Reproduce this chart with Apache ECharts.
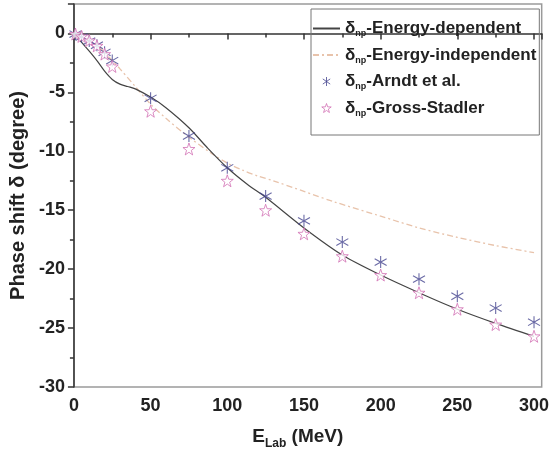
<!DOCTYPE html>
<html>
<head>
<meta charset="utf-8">
<script src="https://cdn.jsdelivr.net/npm/echarts@6/dist/echarts.min.js"></script>
<style>
  html, body { margin: 0; padding: 0; background: #fff; }
  #chart { width: 552px; height: 455px; }
</style>
</head>
<body>
<div id="chart"></div>
<script>
// curves
const curveEnergyDep = [0, 5, 10, 15, 20, 25, 30, 35, 40, 50, 60, 75, 87, 100, 113, 125, 150, 175, 200, 225, 250, 275, 300];
const phaseEnergyDep = [0, -0.75, -1.5, -2.3, -3.2, -3.9, -4.3, -4.5, -4.7, -5.4, -6.3, -8.0, -9.7, -11.4, -12.8, -13.9, -16.5, -18.8, -20.5, -22.0, -23.4, -24.6, -25.7];

const curveEnergyIndep = [0, 5, 10, 15, 20, 25, 30, 40, 50, 60, 75, 90, 100, 110, 120, 130, 150, 170, 200, 225, 250, 275, 300];
const phaseEnergyIndep = [0, -0.3, -0.6, -1.0, -1.6, -2.3, -3.0, -4.5, -6.0, -7.2, -8.8, -10.2, -11.0, -11.6, -12.1, -12.5, -13.4, -14.3, -15.5, -16.5, -17.3, -18.0, -18.6];

// data points
const dataEnergy = [1, 5, 10, 15, 20, 25, 50, 75, 100, 125, 150, 175, 200, 225, 250, 275, 300];
const phaseArndt = [-0.05, -0.3, -0.65, -1.0, -1.6, -2.3, -5.5, -8.7, -11.4, -13.8, -15.9, -17.7, -19.4, -20.85, -22.3, -23.3, -24.5];
const phaseGross = [-0.05, -0.25, -0.6, -1.05, -1.75, -2.8, -6.6, -9.8, -12.5, -15.0, -17.0, -18.9, -20.5, -22.0, -23.4, -24.7, -25.7];

const seriesNames = ['Energy-dependent', 'Energy-independent', 'Arndt et al.', 'Gross-Stadler'];

const toPairs = (xs, ys) => xs.map((x, i) => [x, ys[i]]);

const asteriskPath = 'path://M0,-10L0,10M-8.2,-5.7L8.2,5.7M-8.2,5.7L8.2,-5.7';
const starPath = 'path://M0,-10L2.35,-3.24L9.51,-3.09L3.80,1.24L5.88,8.09L0,4L-5.88,8.09L-3.80,1.24L-9.51,-3.09L-2.35,-3.24Z';
const noMarker = 'path://M0,0L1,0L1,1L0,1Z';

const asteriskColor = '#464690';
const starColor = '#d271b4';

const font = 'Liberation Sans, Arial, sans-serif';

const chart = echarts.init(document.getElementById('chart'));

let option = {
  animation: false,
  textStyle: { fontFamily: font },
  grid: {
    left: 72, right: 8, top: 4, bottom: 67,
    show: true,
    borderColor: '#9a9a9a',
    borderWidth: 1.5,
    backgroundColor: 'transparent'
  },
  legend: {
    orient: 'vertical',
    left: 311,
    top: 9,
    padding: [11, 3, 17, 1],
    borderColor: '#777',
    borderWidth: 1,
    itemWidth: 27,
    itemHeight: 9,
    itemGap: 8,
    data: [
      { name: seriesNames[0] },
      { name: seriesNames[1] },
      { name: seriesNames[2], itemStyle: { color: 'none', borderColor: asteriskColor, borderWidth: 1 } },
      { name: seriesNames[3], itemStyle: { color: '#fff', borderColor: starColor, borderWidth: 1 } }
    ],
    formatter: (name) => `{a|δ}{s|np}{a|-${name}}`,
    textStyle: {
      color: '#222',
      rich: {
        a: { fontSize: 17, fontWeight: 'bold', fontFamily: font, color: '#222' },
        s: { fontSize: 9, fontWeight: 'bold', fontFamily: font, color: '#222', padding: [11, 0, 0, 0] }
      }
    }
  },
  xAxis: {
    type: 'value',
    min: 0,
    max: 305,
    interval: 50,
    name: '{a|E}{s|Lab}{a| (MeV)}',
    nameLocation: 'middle',
    nameGap: 37,
    nameTextStyle: {
      padding: [0, 20, 0, 0],
      rich: {
        a: { fontSize: 19, fontWeight: 'bold', fontFamily: font, color: '#222' },
        s: { fontSize: 12, fontWeight: 'bold', fontFamily: font, color: '#222', padding: [14, 0, 0, 0] }
      }
    },
    axisLine: { lineStyle: { color: '#333', width: 1.5 } },
    axisTick: { show: true, length: 6, lineStyle: { color: '#333', width: 1.5 } },
    minorTick: { show: true, splitNumber: 2, length: 4, lineStyle: { color: '#333', width: 1.5 } },
    splitLine: { show: false },
    axisLabel: {
      margin: 10,
      fontSize: 18,
      fontWeight: 'bold',
      color: '#222',
      formatter: (v) => (v % 50 === 0 ? String(v) : '')
    }
  },
  yAxis: {
    type: 'value',
    min: -30,
    max: 2.5,
    interval: 5,
    name: 'Phase shift δ (degree)',
    nameLocation: 'middle',
    nameGap: 40,
    nameTextStyle: { fontSize: 20, fontWeight: 'bold', color: '#222', fontFamily: font },
    axisLine: { lineStyle: { color: '#333', width: 1.5 } },
    axisTick: { show: true, length: 6, lineStyle: { color: '#333', width: 1.5 } },
    minorTick: { show: true, splitNumber: 2, length: 4, lineStyle: { color: '#333', width: 1.5 } },
    splitLine: { show: false },
    axisLabel: {
      margin: 9,
      fontSize: 18,
      fontWeight: 'bold',
      color: '#222',
      formatter: (v) => (v % 5 === 0 ? String(v) : '')
    }
  },
  series: [
    {
      name: seriesNames[0],
      type: 'line',
      data: toPairs(curveEnergyDep, phaseEnergyDep),
      smooth: 0.3,
      symbol: noMarker,
      showSymbol: false,
      lineStyle: { color: '#444', width: 1.2 },
      itemStyle: { color: '#444', opacity: 0 },
      z: 3
    },
    {
      name: seriesNames[1],
      type: 'line',
      data: toPairs(curveEnergyIndep, phaseEnergyIndep),
      smooth: 0.3,
      symbol: noMarker,
      showSymbol: false,
      lineStyle: { color: '#e8c3ab', width: 1.3, type: [6, 3, 2, 3] },
      itemStyle: { color: '#e8c3ab', opacity: 0 },
      z: 2
    },
    {
      name: seriesNames[2],
      type: 'scatter',
      data: toPairs(dataEnergy, phaseArndt),
      symbol: asteriskPath,
      symbolSize: 12,
      itemStyle: { color: 'none', borderColor: asteriskColor, borderWidth: 1.1 },
      z: 4
    },
    {
      name: seriesNames[3],
      type: 'scatter',
      data: toPairs(dataEnergy, phaseGross),
      symbol: starPath,
      symbolSize: 12,
      itemStyle: { color: '#fff', borderColor: starColor, borderWidth: 1 },
      z: 4
    }
  ]
};

chart.setOption(option);
</script>
</body>
</html>
